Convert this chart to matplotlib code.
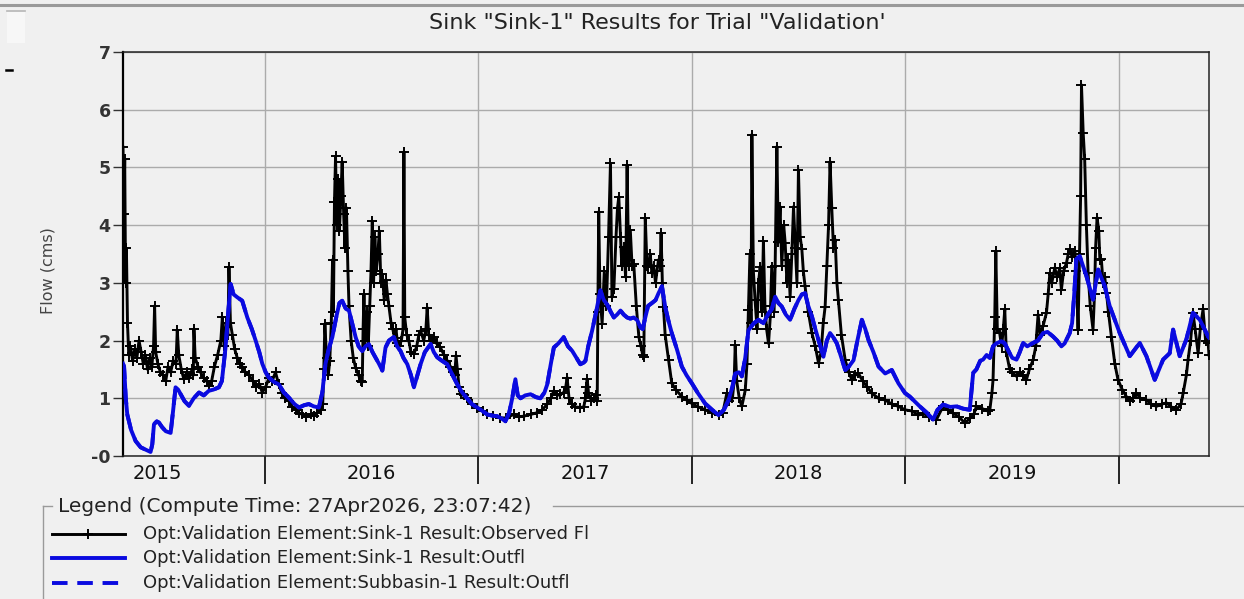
import matplotlib
matplotlib.use("Agg")
import matplotlib.pyplot as plt
from matplotlib.lines import Line2D
from matplotlib.patches import Rectangle
from matplotlib.ticker import FixedLocator, FixedFormatter, NullFormatter

# Observed flow at Sink-1 (time in decimal years, flow in cms)
obs_t = [
    2015.337, 2015.341, 2015.345, 2015.349, 2015.353, 2015.358, 2015.364, 2015.372,
    2015.382, 2015.392, 2015.402, 2015.412, 2015.422, 2015.432, 2015.442, 2015.452,
    2015.462, 2015.472, 2015.480, 2015.485, 2015.490, 2015.500, 2015.512, 2015.525,
    2015.537, 2015.548, 2015.560, 2015.572, 2015.585, 2015.591, 2015.598, 2015.610,
    2015.622, 2015.635, 2015.648, 2015.660, 2015.666, 2015.669, 2015.675, 2015.688,
    2015.700, 2015.715, 2015.728, 2015.739, 2015.752, 2015.765, 2015.780, 2015.795,
    2015.802, 2015.810, 2015.820, 2015.828, 2015.833, 2015.840, 2015.849, 2015.860,
    2015.872, 2015.885, 2015.895, 2015.910, 2015.927, 2015.945, 2015.960, 2015.975,
    2015.989, 2016.005, 2016.020, 2016.035, 2016.051, 2016.065, 2016.080, 2016.095,
    2016.114, 2016.130, 2016.145, 2016.160, 2016.176, 2016.195, 2016.215, 2016.230,
    2016.245, 2016.262, 2016.272, 2016.277, 2016.282, 2016.290, 2016.298, 2016.305,
    2016.312, 2016.318, 2016.322, 2016.327, 2016.332, 2016.338, 2016.344, 2016.350,
    2016.357, 2016.363, 2016.370, 2016.376, 2016.383, 2016.390, 2016.395, 2016.405,
    2016.415, 2016.426, 2016.440, 2016.450, 2016.457, 2016.461, 2016.465, 2016.470,
    2016.478, 2016.485, 2016.492, 2016.498, 2016.504, 2016.510, 2016.516, 2016.522,
    2016.530, 2016.537, 2016.544, 2016.551, 2016.560, 2016.568, 2016.575, 2016.582,
    2016.592, 2016.600, 2016.608, 2016.615, 2016.622, 2016.629, 2016.640, 2016.648,
    2016.652, 2016.656, 2016.665, 2016.675, 2016.685, 2016.699, 2016.712, 2016.722,
    2016.730, 2016.745, 2016.755, 2016.761, 2016.768, 2016.780, 2016.792, 2016.805,
    2016.823, 2016.840, 2016.855, 2016.870, 2016.880, 2016.890, 2016.896, 2016.902,
    2016.910, 2016.917, 2016.932, 2016.948, 2016.970, 2016.995, 2017.020, 2017.042,
    2017.070, 2017.104, 2017.130, 2017.166, 2017.190, 2017.213, 2017.245, 2017.276,
    2017.300, 2017.323, 2017.340, 2017.354, 2017.370, 2017.385, 2017.400, 2017.410,
    2017.416, 2017.425, 2017.440, 2017.455, 2017.478, 2017.494, 2017.502, 2017.506,
    2017.510, 2017.516, 2017.530, 2017.541, 2017.550, 2017.557, 2017.560, 2017.564,
    2017.570, 2017.580, 2017.590, 2017.600, 2017.610, 2017.619, 2017.626, 2017.635,
    2017.645, 2017.652, 2017.658, 2017.666, 2017.672, 2017.681, 2017.690, 2017.697,
    2017.704, 2017.712, 2017.720, 2017.728, 2017.740, 2017.752, 2017.762, 2017.770,
    2017.775, 2017.782, 2017.790, 2017.797, 2017.805, 2017.813, 2017.821, 2017.830,
    2017.837, 2017.844, 2017.852, 2017.856, 2017.862, 2017.867, 2017.875, 2017.891,
    2017.906, 2017.925, 2017.953, 2017.975, 2018.000, 2018.030, 2018.062, 2018.095,
    2018.125, 2018.145, 2018.164, 2018.175, 2018.190, 2018.198, 2018.203, 2018.210,
    2018.222, 2018.234, 2018.250, 2018.258, 2018.265, 2018.272, 2018.277, 2018.281,
    2018.288, 2018.296, 2018.305, 2018.312, 2018.320, 2018.328, 2018.335, 2018.342,
    2018.350, 2018.359, 2018.367, 2018.374, 2018.385, 2018.390, 2018.398, 2018.405,
    2018.413, 2018.421, 2018.430, 2018.437, 2018.445, 2018.452, 2018.460, 2018.468,
    2018.476, 2018.485, 2018.492, 2018.499, 2018.507, 2018.515, 2018.522, 2018.530,
    2018.545, 2018.562, 2018.578, 2018.593, 2018.605, 2018.615, 2018.624, 2018.632,
    2018.640, 2018.647, 2018.655, 2018.663, 2018.671, 2018.679, 2018.686, 2018.700,
    2018.718, 2018.735, 2018.749, 2018.765, 2018.780, 2018.800, 2018.820, 2018.842,
    2018.874, 2018.905, 2018.936, 2018.967, 2018.998, 2019.030, 2019.061, 2019.083,
    2019.110, 2019.145, 2019.176, 2019.200, 2019.223, 2019.250, 2019.278, 2019.301,
    2019.320, 2019.332, 2019.360, 2019.385, 2019.395, 2019.405, 2019.410, 2019.418,
    2019.423, 2019.430, 2019.441, 2019.450, 2019.458, 2019.465, 2019.472, 2019.488,
    2019.500, 2019.520, 2019.535, 2019.551, 2019.566, 2019.580, 2019.598, 2019.610,
    2019.621, 2019.630, 2019.644, 2019.660, 2019.668, 2019.676, 2019.685, 2019.699,
    2019.710, 2019.722, 2019.730, 2019.740, 2019.754, 2019.762, 2019.769, 2019.780,
    2019.793, 2019.800, 2019.808, 2019.815, 2019.820, 2019.824, 2019.832, 2019.839,
    2019.847, 2019.855, 2019.865, 2019.878, 2019.885, 2019.890, 2019.897, 2019.905,
    2019.910, 2019.917, 2019.925, 2019.933, 2019.941, 2019.950, 2019.964, 2019.980,
    2019.995, 2020.015, 2020.034, 2020.050, 2020.065, 2020.081, 2020.100, 2020.128,
    2020.150, 2020.175, 2020.200, 2020.222, 2020.245, 2020.268, 2020.290, 2020.300,
    2020.315, 2020.323, 2020.335, 2020.346, 2020.356, 2020.370, 2020.380, 2020.393,
    2020.405, 2020.417, 2020.421,
]
obs_q = [
    5.35, 4.20, 5.15, 3.00, 3.60, 2.30, 1.75, 1.90,
    1.65, 1.85, 1.70, 2.00, 1.80, 1.60, 1.75, 1.50,
    1.70, 1.55, 1.90, 2.60, 1.80, 1.60, 1.45, 1.40,
    1.30, 1.55, 1.45, 1.65, 1.60, 2.18, 1.75, 1.50,
    1.33, 1.45, 1.35, 1.50, 1.40, 2.20, 1.70, 1.55,
    1.45, 1.35, 1.30, 1.22, 1.30, 1.55, 1.75, 2.00,
    2.40, 1.90, 2.30, 2.10, 3.27, 2.30, 2.10, 1.85,
    1.70, 1.60, 1.55, 1.45, 1.40, 1.30, 1.20, 1.25,
    1.10, 1.20, 1.35, 1.30, 1.45, 1.25, 1.10, 1.00,
    0.95, 0.85, 0.80, 0.75, 0.72, 0.68, 0.72, 0.70,
    0.75, 0.80, 0.90, 1.50, 2.29, 1.70, 1.40, 1.65,
    2.30, 3.40, 2.50, 4.40, 5.19, 4.00, 4.80, 3.90,
    4.50, 5.10, 4.20, 3.60, 4.30, 3.20, 2.60, 2.00,
    1.70, 1.53, 1.40, 1.30, 1.28, 2.20, 2.80, 2.00,
    2.50, 1.90, 2.60, 3.20, 4.07, 3.00, 3.80, 3.20,
    3.50, 3.90, 3.00, 3.15, 2.70, 3.05, 2.80, 2.60,
    2.30, 2.20, 2.05, 2.20, 1.95, 1.90, 2.00, 2.20,
    5.27, 2.40, 2.10, 2.00, 1.80, 1.77, 1.90, 2.10,
    2.17, 2.00, 2.20, 2.57, 2.10, 2.00, 2.06, 1.95,
    1.88, 1.75, 1.65, 1.55, 1.45, 1.40, 1.74, 1.50,
    1.20, 1.07, 1.05, 1.00, 0.90, 0.84, 0.78, 0.72,
    0.70, 0.66, 0.66, 0.72, 0.68, 0.69, 0.72, 0.75,
    0.80, 0.90, 1.00, 1.13, 1.05, 1.07, 1.10, 1.20,
    1.36, 1.00, 0.90, 0.85, 0.84, 0.85, 1.00, 1.20,
    1.33, 1.10, 0.95, 1.00, 1.05, 0.95, 2.50, 4.23,
    2.80, 2.29, 3.20, 2.60, 3.80, 5.07, 2.75, 2.90,
    3.80, 4.30, 4.49, 3.80, 3.30, 3.62, 3.10, 5.04,
    3.30, 3.91, 3.30, 3.33, 2.60, 2.06, 1.90, 1.75,
    1.71, 4.12, 3.30, 3.28, 3.50, 3.17, 3.30, 3.00,
    3.21, 3.40, 3.30, 3.86, 3.00, 2.59, 2.10, 1.66,
    1.26, 1.15, 1.03, 0.97, 0.91, 0.85, 0.80, 0.75,
    0.71, 0.75, 1.09, 0.95, 1.00, 1.30, 1.92, 1.30,
    1.00, 0.86, 1.14, 1.60, 2.53, 3.50, 2.30, 5.57,
    3.20, 2.70, 2.20, 3.00, 3.28, 2.50, 3.72, 2.60,
    2.20, 1.95, 2.40, 3.28, 2.50, 3.30, 5.36, 3.70,
    4.32, 3.30, 4.00, 3.69, 3.00, 3.40, 2.76, 3.50,
    4.32, 3.60, 3.00, 4.96, 3.80, 3.58, 3.20, 2.94,
    2.50, 2.13, 1.90, 1.61, 1.80, 2.30, 2.59, 3.30,
    4.00, 5.10, 4.30, 3.60, 3.75, 3.00, 2.70, 2.10,
    1.66, 1.45, 1.32, 1.40, 1.43, 1.30, 1.20, 1.09,
    1.00, 0.97, 0.90, 0.86, 0.80, 0.78, 0.71, 0.74,
    0.68, 0.63, 0.86, 0.80, 0.74, 0.68, 0.57, 0.65,
    0.72, 0.86, 0.82, 0.78, 0.80, 1.10, 1.32, 2.40,
    3.55, 2.20, 2.13, 1.90, 2.20, 2.54, 1.80, 1.50,
    1.45, 1.38, 1.45, 1.40, 1.32, 1.50, 1.67, 1.90,
    2.45, 2.10, 2.25, 2.48, 2.80, 3.17, 3.00, 3.26,
    3.10, 3.25, 2.88, 3.20, 3.35, 3.50, 3.58, 3.45,
    3.55, 3.20, 2.19, 3.50, 4.50, 6.43, 5.60, 5.14,
    4.00, 3.17, 2.60, 2.19, 2.80, 3.60, 4.13, 3.90,
    3.40, 3.41, 3.00, 3.10, 2.83, 2.50, 2.07, 1.60,
    1.32, 1.15, 1.03, 0.95, 1.00, 1.09, 1.00, 0.97,
    0.90, 0.86, 0.90, 0.92, 0.85, 0.80, 0.90, 1.09,
    1.40, 1.67, 2.00, 2.48, 2.20, 1.78, 2.20, 2.54,
    2.00, 1.96, 1.75,
]

# Simulated outflow (Sink-1 and Subbasin-1 give the same hydrograph)
sim_t = [
    2015.337, 2015.342, 2015.350, 2015.357, 2015.375, 2015.396, 2015.420, 2015.443,
    2015.466, 2015.474, 2015.482, 2015.495, 2015.505, 2015.520, 2015.537, 2015.560,
    2015.572, 2015.583, 2015.595, 2015.607, 2015.625, 2015.646, 2015.668, 2015.693,
    2015.715, 2015.739, 2015.760, 2015.786, 2015.800, 2015.817, 2015.830, 2015.841,
    2015.855, 2015.872, 2015.895, 2015.919, 2015.940, 2015.958, 2015.975, 2015.989,
    2016.005, 2016.020, 2016.045, 2016.067, 2016.090, 2016.114, 2016.140, 2016.161,
    2016.185, 2016.207, 2016.230, 2016.254, 2016.270, 2016.285, 2016.300, 2016.317,
    2016.335, 2016.350, 2016.363, 2016.380, 2016.395, 2016.410, 2016.426, 2016.440,
    2016.457, 2016.472, 2016.488, 2016.505, 2016.520, 2016.535, 2016.551, 2016.566,
    2016.582, 2016.605, 2016.620, 2016.636, 2016.650, 2016.668, 2016.685, 2016.699,
    2016.715, 2016.730, 2016.750, 2016.777, 2016.792, 2016.808, 2016.830, 2016.855,
    2016.880, 2016.902, 2016.925, 2016.948, 2016.970, 2016.995, 2017.020, 2017.042,
    2017.065, 2017.088, 2017.110, 2017.127, 2017.145, 2017.159, 2017.166, 2017.174,
    2017.185, 2017.198, 2017.220, 2017.245, 2017.270, 2017.291, 2017.310, 2017.323,
    2017.340, 2017.354, 2017.375, 2017.400, 2017.420, 2017.440, 2017.460, 2017.478,
    2017.494, 2017.502, 2017.515, 2017.533, 2017.552, 2017.572, 2017.588, 2017.603,
    2017.620, 2017.635, 2017.650, 2017.666, 2017.681, 2017.697, 2017.712, 2017.728,
    2017.745, 2017.759, 2017.770, 2017.782, 2017.795, 2017.813, 2017.830, 2017.844,
    2017.860, 2017.875, 2017.890, 2017.906, 2017.930, 2017.953, 2017.975, 2018.000,
    2018.030, 2018.062, 2018.095, 2018.125, 2018.150, 2018.172, 2018.190, 2018.203,
    2018.220, 2018.234, 2018.250, 2018.265, 2018.290, 2018.312, 2018.335, 2018.359,
    2018.375, 2018.390, 2018.405, 2018.421, 2018.440, 2018.460, 2018.480, 2018.499,
    2018.515, 2018.530, 2018.545, 2018.562, 2018.578, 2018.593, 2018.616, 2018.632,
    2018.647, 2018.663, 2018.679, 2018.700, 2018.718, 2018.735, 2018.757, 2018.775,
    2018.796, 2018.812, 2018.827, 2018.850, 2018.874, 2018.905, 2018.936, 2018.967,
    2018.998, 2019.020, 2019.067, 2019.100, 2019.129, 2019.150, 2019.176, 2019.210,
    2019.239, 2019.270, 2019.301, 2019.317, 2019.332, 2019.350, 2019.363, 2019.380,
    2019.395, 2019.410, 2019.425, 2019.449, 2019.465, 2019.488, 2019.500, 2019.520,
    2019.535, 2019.551, 2019.570, 2019.598, 2019.620, 2019.644, 2019.665, 2019.691,
    2019.710, 2019.730, 2019.745, 2019.769, 2019.780, 2019.790, 2019.800, 2019.816,
    2019.847, 2019.878, 2019.902, 2019.933, 2019.956, 2020.003, 2020.050, 2020.097,
    2020.128, 2020.167, 2020.206, 2020.237, 2020.253, 2020.284, 2020.315, 2020.346,
    2020.378, 2020.417, 2020.421,
]
sim_q = [
    1.60, 1.55, 1.00, 0.72, 0.45, 0.26, 0.15, 0.11,
    0.07, 0.20, 0.55, 0.60, 0.58, 0.50, 0.43, 0.40,
    0.80, 1.19, 1.15, 1.07, 0.95, 0.87, 1.00, 1.10,
    1.05, 1.13, 1.15, 1.19, 1.30, 1.88, 2.50, 2.98,
    2.80, 2.75, 2.69, 2.40, 2.20, 2.00, 1.80, 1.60,
    1.45, 1.36, 1.28, 1.24, 1.10, 1.01, 0.90, 0.84,
    0.88, 0.90, 0.86, 0.84, 1.10, 1.60, 1.85, 2.06,
    2.40, 2.65, 2.69, 2.55, 2.52, 2.30, 2.06, 1.90,
    1.82, 1.90, 1.94, 1.80, 1.70, 1.60, 1.48, 1.88,
    2.00, 2.06, 1.90, 1.82, 1.70, 1.59, 1.40, 1.19,
    1.40, 1.59, 1.80, 1.94, 1.80, 1.71, 1.65, 1.59,
    1.40, 1.24, 1.10, 1.00, 0.90, 0.84, 0.78, 0.72,
    0.70, 0.69, 0.65, 0.60, 0.75, 1.00, 1.15, 1.33,
    1.05, 1.00, 1.05, 1.07, 1.02, 1.00, 1.10, 1.24,
    1.60, 1.88, 1.95, 2.06, 1.90, 1.82, 1.70, 1.59,
    1.62, 1.65, 1.90, 2.17, 2.50, 2.87, 2.70, 2.63,
    2.50, 2.40, 2.45, 2.52, 2.45, 2.40, 2.38, 2.40,
    2.35, 2.23, 2.20, 2.40, 2.60, 2.65, 2.70, 2.82,
    2.94, 2.59, 2.35, 2.13, 1.85, 1.55, 1.40, 1.26,
    1.08, 0.91, 0.80, 0.71, 0.80, 0.97, 1.20, 1.43,
    1.45, 1.38, 1.70, 2.18, 2.30, 2.36, 2.30, 2.47,
    2.55, 2.76, 2.65, 2.59, 2.45, 2.36, 2.55, 2.70,
    2.80, 2.82, 2.60, 2.42, 2.20, 2.01, 1.72, 2.00,
    2.13, 2.05, 1.95, 1.70, 1.49, 1.55, 1.66, 2.00,
    2.36, 2.20, 2.01, 1.80, 1.55, 1.43, 1.49, 1.26,
    1.09, 1.03, 0.86, 0.75, 0.63, 0.80, 0.89, 0.85,
    0.86, 0.82, 0.80, 1.44, 1.50, 1.65, 1.67, 1.75,
    1.70, 1.90, 1.95, 1.99, 1.95, 1.78, 1.70, 1.67,
    1.80, 1.96, 1.90, 1.96, 2.00, 2.13, 2.15, 2.07,
    2.00, 1.90, 1.95, 2.13, 2.30, 2.80, 3.41, 3.46,
    3.12, 2.71, 3.23, 2.94, 2.60, 2.13, 1.73, 1.96,
    1.73, 1.32, 1.67, 1.78, 2.19, 1.73, 2.02, 2.48,
    2.36, 2.07, 2.05,
]

year_labels = ["2015", "2016", "2017", "2018", "2019"]
year_label_pos = [2015.5, 2016.5, 2017.5, 2018.5, 2019.5]
year_bounds = [2016, 2017, 2018, 2019, 2020]
flow_ticks = [0, 1, 2, 3, 4, 5, 6, 7]
flow_labels = ["-0", "1", "2", "3", "4", "5", "6", "7"]

legend_title = "Legend (Compute Time: 27Apr2026, 23:07:42)"
legend_labels = [
    "Opt:Validation Element:Sink-1 Result:Observed Fl",
    "Opt:Validation Element:Sink-1 Result:Outfl",
    "Opt:Validation Element:Subbasin-1 Result:Outfl",
]

W, H = 1244, 599
BG = "#f0f0f0"
BLUE = "#0a0ae0"
GRID = "#ababab"

plt.rcParams["font.family"] = ["DejaVu Sans"]

fig = plt.figure(figsize=(W / 100, H / 100), dpi=100, facecolor=BG)


def fx(px):
    return px / W


def fy(py):
    return 1 - py / H


ax = fig.add_axes([fx(123), fy(456), fx(1209 - 123), (456 - 52) / H])
ax.set_facecolor(BG)

obs_style = dict(color="black", lw=2.1, marker="+", ms=7, mew=1.4)
sim_style = dict(color=BLUE, lw=2.8)
sub_style = dict(color=BLUE, lw=2.8, ls=(0, (4, 2.5)))

ax.plot(obs_t, obs_q, zorder=3, **obs_style)
ax.plot(sim_t, sim_q, zorder=4, **sub_style)
ax.plot(sim_t, sim_q, zorder=4, **sim_style)

ax.set_xlim(2015.337, 2020.421)
ax.set_ylim(0, 7)

# years: boundaries get long ticks + grid, labels sit mid-year
ax.xaxis.set_major_locator(FixedLocator(year_bounds))
ax.xaxis.set_major_formatter(NullFormatter())
ax.xaxis.set_minor_locator(FixedLocator(year_label_pos))
ax.xaxis.set_minor_formatter(FixedFormatter(year_labels))
ax.tick_params(axis="x", which="major", length=20, width=1.2, color="black")
ax.tick_params(axis="x", which="minor", length=0, pad=6, labelsize=14, labelcolor="#111111")

ax.yaxis.set_major_locator(FixedLocator(flow_ticks))
ax.yaxis.set_major_formatter(FixedFormatter(flow_labels))
ax.tick_params(axis="y", length=7, width=1.0, color="#333333", pad=2,
               labelsize=12.5, labelcolor="#333333")
for lab in ax.get_yticklabels():
    lab.set_fontweight("bold")

ax.grid(True, which="major", color=GRID, lw=1.0)
ax.set_axisbelow(True)
for side in ["top", "right", "bottom"]:
    ax.spines[side].set_linewidth(1.1)
    ax.spines[side].set_color("#222222")
ax.spines["left"].set_linewidth(1.6)
ax.spines["left"].set_color("black")

ax.set_ylabel("Flow (cms)", fontsize=11.5, color="#444444")
ax_w = ax.get_position().width
ax.yaxis.set_label_coords((fx(55) - fx(123)) / ax_w, 0.46)

fig.text(fx(657), fy(23), 'Sink "Sink-1" Results for Trial "Validation\'',
         ha="center", va="center", fontsize=16, color="#222222")

# window chrome along the top
fig.add_artist(Line2D([0, 1], [fy(5), fy(5)], color="#9a9a9a", lw=2.2))
fig.add_artist(Rectangle((fx(7), fy(43)), fx(18), (43 - 10) / H,
                         facecolor="#f7f7f7", edgecolor="none"))
fig.add_artist(Line2D([fx(7), fx(25)], [fy(11), fy(11)], color="#b5b5b5", lw=1.2))
fig.add_artist(Line2D([fx(6), fx(12)], [fy(70), fy(70)], color="black", lw=1.8))

# legend panel
title_txt = fig.text(fx(58), fy(507), legend_title, ha="left", va="center",
                     fontsize=14.5, color="#222222")
fig.canvas.draw()
bb = title_txt.get_window_extent()
fig.add_artist(Line2D([fx(43), fx(43)], [fy(506), 0], color="#9a9a9a", lw=1.0))
fig.add_artist(Line2D([fx(43), fx(52)], [fy(506), fy(506)], color="#9a9a9a", lw=1.0))
fig.add_artist(Line2D([(bb.x1 + 22) / W, 1], [fy(506), fy(506)], color="#9a9a9a", lw=1.0))

row_y = [534, 558, 583]
for y, label, style in zip(row_y, legend_labels, [obs_style, sim_style, sub_style]):
    st = dict(style)
    if "marker" in st:
        st["markevery"] = [1]
    fig.add_artist(Line2D([fx(52), fx(88), fx(125)], [fy(y)] * 3, **st))
    fig.text(fx(143), fy(y), label, ha="left", va="center", fontsize=13, color="#222222")

fig.savefig("out.png", dpi=100, facecolor=BG)
